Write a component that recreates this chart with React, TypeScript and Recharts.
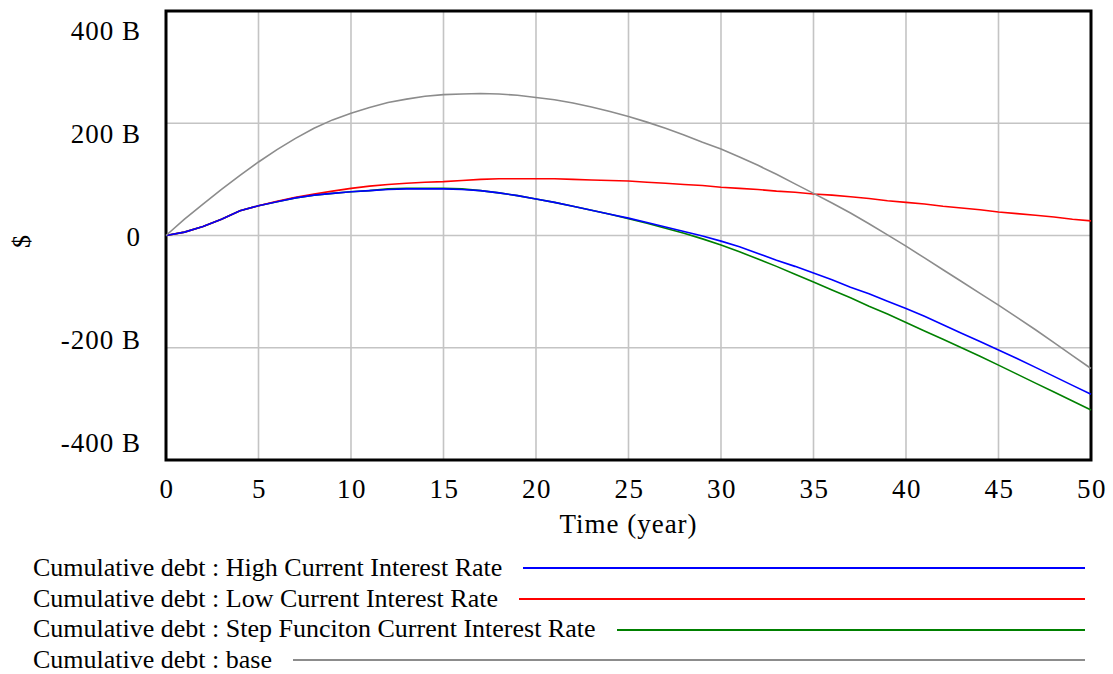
import { LineChart, Line, XAxis, YAxis, CartesianGrid, ReferenceArea, Label } from 'recharts';

// time in years
const years = [
  0, 1, 2, 3, 4, 5, 6, 7, 8, 9, 10, 11, 12, 13, 14, 15, 16, 17, 18, 19, 20,
  21, 22, 23, 24, 25, 26, 27, 28, 29, 30, 31, 32, 33, 34, 35, 36, 37, 38, 39, 40,
  41, 42, 43, 44, 45, 46, 47, 48, 49, 50,
];

// cumulative debt, billions of $
const highRate = [
  0, 6, 16, 29, 44, 53, 60, 67, 72, 75, 78, 80, 82, 83, 83, 83, 82, 80, 76, 71, 65,
  59, 52, 45, 38, 31, 23, 15, 7, -1, -10, -20, -32, -44, -55, -67, -79, -92, -104, -117, -130,
  -144, -159, -174, -189, -204, -219, -235, -251, -267, -283,
];
const lowRate = [
  0, 6, 16, 29, 44, 53, 61, 68, 74, 79, 84, 88, 91, 93, 95, 96, 98, 100, 101, 101, 101,
  101, 100, 99, 98, 97, 95, 93, 91, 89, 86, 84, 82, 79, 77, 74, 72, 69, 66, 62, 59,
  56, 52, 49, 46, 42, 39, 36, 33, 29, 26,
];
const stepRate = [
  0, 6, 16, 29, 44, 53, 60, 67, 72, 75, 78, 80, 83, 84, 84, 84, 83, 80, 76, 71, 65,
  59, 52, 45, 38, 30, 22, 13, 4, -6, -17, -29, -42, -55, -69, -83, -97, -111, -126, -140, -155,
  -170, -185, -200, -215, -231, -247, -263, -279, -295, -311,
];
const base = [
  0, 29, 56, 82, 107, 131, 153, 173, 191, 206, 218, 228, 237, 243, 248, 251, 252, 253, 252, 250, 246,
  242, 236, 229, 221, 212, 202, 191, 179, 166, 154, 140, 125, 109, 92, 75, 58, 40, 21, 1, -19,
  -40, -61, -82, -103, -124, -146, -168, -191, -214, -237,
];

const xTicks = [0, 5, 10, 15, 20, 25, 30, 35, 40, 45, 50];
const yTicks = [-400, -200, 0, 200, 400];

const series = [
  { key: 'high', name: 'Cumulative debt : High Current Interest Rate', color: '#0000ff', values: highRate },
  { key: 'low', name: 'Cumulative debt : Low Current Interest Rate', color: '#ff0000', values: lowRate },
  { key: 'step', name: 'Cumulative debt : Step Funciton Current Interest Rate', color: '#008000', values: stepRate },
  { key: 'base', name: 'Cumulative debt : base', color: '#8c8c8c', values: base },
];

const data = years.map((t, i) => {
  const row: Record<string, number> = { t };
  series.forEach((s) => {
    row[s.key] = s.values[i];
  });
  return row;
});

const FONT = '"Liberation Serif", "Times New Roman", serif';

const XTick = (props: any) => {
  const { x, y, payload } = props;
  return (
    <text x={x + 1} y={y + 38} textAnchor="middle" fontFamily={FONT} fontSize={27} letterSpacing={1.5} fill="#000">
      {payload.value}
    </text>
  );
};

const YTick = (props: any) => {
  const { x, y, payload } = props;
  const v = payload.value;
  return (
    <text x={x} y={y + 10.5 + v * 0.047} textAnchor="end" fontFamily={FONT} fontSize={27} letterSpacing={1} fill="#000">
      {v === 0 ? '0' : `${v} B`}
    </text>
  );
};

export default function App() {
  return (
    <div style={{ position: 'absolute', left: 0, top: 0, width: 1113, height: 674, background: '#fff', fontFamily: FONT }}>
      <LineChart width={1113} height={540} data={data} margin={{ top: 11, right: 22, bottom: 0, left: 0 }}>
        <CartesianGrid stroke="#c4c4c4" strokeWidth={1.6} />
        <XAxis
          dataKey="t"
          type="number"
          domain={[0, 50]}
          ticks={xTicks}
          interval={0}
          axisLine={false}
          tickLine={false}
          tickSize={0}
          tickMargin={0}
          height={80}
          tick={<XTick />}
        >
          <Label
            content={({ viewBox }: any) => (
              <text
                x={viewBox.x + viewBox.width / 2}
                y={viewBox.y + 73}
                textAnchor="middle"
                fontFamily={FONT}
                fontSize={27}
                letterSpacing={1}
                fill="#000"
              >
                Time (year)
              </text>
            )}
          />
        </XAxis>
        <YAxis
          type="number"
          domain={[-400, 400]}
          ticks={yTicks}
          interval={0}
          axisLine={false}
          tickLine={false}
          tickSize={0}
          tickMargin={25}
          width={166}
          tick={<YTick />}
        >
          <Label
            content={({ viewBox }: any) => (
              <text
                x={21}
                y={viewBox.y + viewBox.height / 2 + 6}
                textAnchor="middle"
                dominantBaseline="central"
                transform={`rotate(-90, 21, ${viewBox.y + viewBox.height / 2 + 6})`}
                fontFamily={FONT}
                fontSize={26}
                fill="#000"
              >
                $
              </text>
            )}
          />
        </YAxis>
        {[series[2], series[1], series[0], series[3]].map((s) => (
          <Line
            key={s.key}
            dataKey={s.key}
            name={s.name}
            type="linear"
            stroke={s.color}
            strokeWidth={1.6}
            dot={false}
            activeDot={false}
            isAnimationActive={false}
          />
        ))}
        <ReferenceArea x1={0} x2={50} y1={-400} y2={400} fill="none" stroke="#000" strokeWidth={3} />
      </LineChart>

      {/* Legend */}
      <div style={{ position: 'absolute', left: 33, top: 553, width: 1052 }}>
        {series.map((s) => (
          <div key={s.key} style={{ display: 'flex', alignItems: 'center', height: 30.7, fontSize: 26, lineHeight: '30.7px', whiteSpace: 'nowrap' }}>
            <span style={{ color: '#000' }}>{s.name}</span>
            <div style={{ flex: 1, height: 2, marginLeft: 21, background: s.color }} />
          </div>
        ))}
      </div>
    </div>
  );
}
